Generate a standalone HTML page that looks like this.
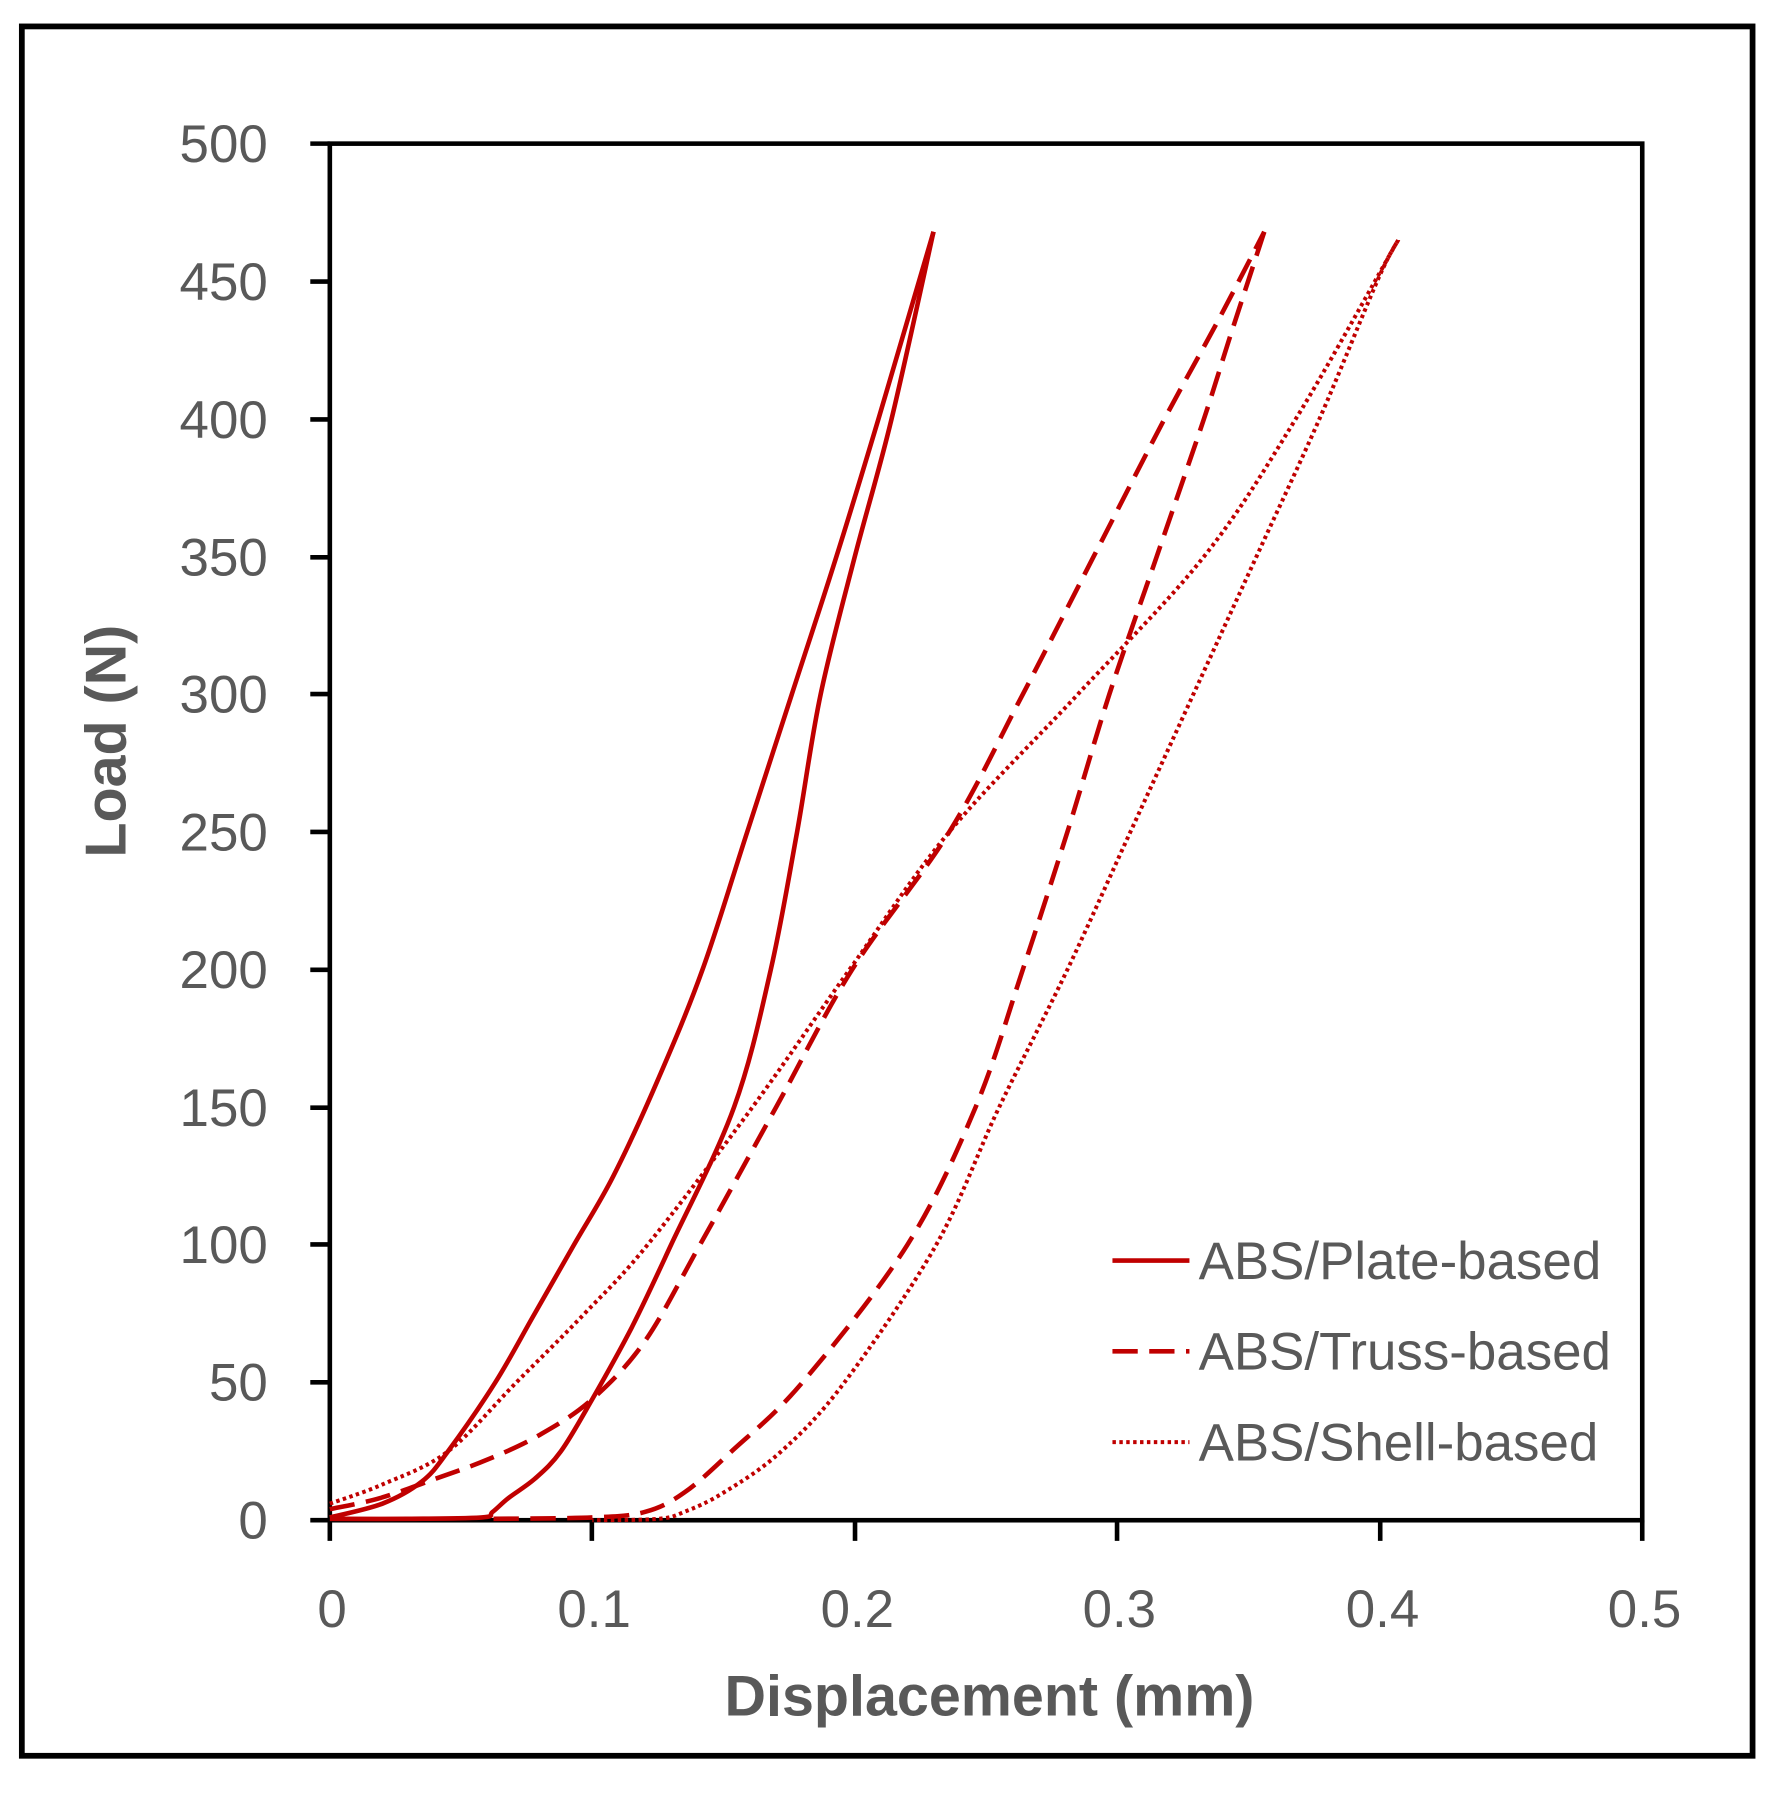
<!DOCTYPE html>
<html><head><meta charset="utf-8"><style>
html,body{margin:0;padding:0;background:#fff}
svg{display:block}
text{font-family:"Liberation Sans",sans-serif;fill:#595959}
</style></head><body>
<svg width="1779" height="1796" viewBox="0 0 1548 1563" preserveAspectRatio="none" xmlns="http://www.w3.org/2000/svg">
<rect x="0" y="0" width="1548" height="1563" fill="#fff"/>
<rect x="19" y="23" width="1506" height="1505" fill="none" stroke="#000" stroke-width="5"/>
<g stroke="#000" stroke-width="4" fill="none">
<rect x="287" y="125" width="1142" height="1198"/>
<path d="M270 125H287M270 245H287M270 365H287M270 485H287M270 604H287M270 724H287M270 844H287M270 964H287M270 1083H287M270 1203H287M270 1323H287"/>
<path d="M287 1323V1341M515 1323V1341M744 1323V1341M972 1323V1341M1201 1323V1341M1429 1323V1341"/>
</g>
<g font-size="46" text-anchor="end">
<text x="233" y="141">500</text><text x="233" y="261">450</text><text x="233" y="381">400</text>
<text x="233" y="501">350</text><text x="233" y="620">300</text><text x="233" y="740">250</text>
<text x="233" y="860">200</text><text x="233" y="980">150</text><text x="233" y="1099">100</text>
<text x="233" y="1219">50</text><text x="233" y="1339">0</text>
</g>
<g font-size="46" text-anchor="middle">
<text x="289" y="1416">0</text><text x="517" y="1416">0.1</text><text x="746" y="1416">0.2</text>
<text x="974" y="1416">0.3</text><text x="1203" y="1416">0.4</text><text x="1431" y="1416">0.5</text>
</g>
<text x="861" y="1493" font-size="50" font-weight="bold" text-anchor="middle">Displacement (mm)</text>
<text transform="translate(109,645) rotate(-90)" font-size="50" font-weight="bold" text-anchor="middle">Load (N)</text>
<g stroke="#c00000" stroke-width="4" fill="none">
<line x1="968" y1="1097" x2="1035" y2="1097"/>
<line x1="968" y1="1176" x2="1035" y2="1176" stroke-dasharray="22,10"/>
<line x1="968" y1="1255" x2="1035" y2="1255" stroke-dasharray="3,3" stroke-width="3.5"/>
</g>
<g font-size="46">
<text x="1043" y="1113">ABS/Plate-based</text>
<text x="1043" y="1192">ABS/Truss-based</text>
<text x="1043" y="1271">ABS/Shell-based</text>
</g>
<g id="curves" stroke="#c00000" fill="none" stroke-width="4" stroke-linejoin="round"></g>
</svg>
<script>
function P(pts){
 const q=pts.map(p=>[287+p[0]*2284,1323-p[1]*2.396]);
 let d="M"+q[0][0].toFixed(1)+" "+q[0][1].toFixed(1);
 for(let i=0;i<q.length-1;i++){
  const p0=q[Math.max(i-1,0)],p1=q[i],p2=q[i+1],p3=q[Math.min(i+2,q.length-1)];
  const c1=[p1[0]+(p2[0]-p0[0])/6,p1[1]+(p2[1]-p0[1])/6];
  const c2=[p2[0]-(p3[0]-p1[0])/6,p2[1]-(p3[1]-p1[1])/6];
  d+="C"+c1.map(v=>v.toFixed(1)).join(" ")+" "+c2.map(v=>v.toFixed(1)).join(" ")+" "+p2.map(v=>v.toFixed(1)).join(" ");
 }
 return d;
}
const plateL=[[0,1],[0.02,6],[0.035,14],[0.045,25],[0.063,50],[0.078,75],[0.093,100],[0.108,125],[0.125,160],[0.142,200],[0.159,250],[0.176,300],[0.193,350],[0.209,400],[0.23,468]];
const plateU=[[0.23,468],[0.214,400],[0.2,350],[0.187,300],[0.178,250],[0.168,200],[0.154,150],[0.13,100],[0.115,70],[0.1,44],[0.088,25],[0.078,15],[0.068,8],[0.062,3],[0.058,1],[0.03,0.5],[0,0.5]];
const trussL=[[0,4],[0.019,8],[0.04,15],[0.06,22],[0.08,31],[0.1,44],[0.12,65],[0.141,100],[0.17,150],[0.199,200],[0.236,250],[0.264,300],[0.291,350],[0.318,400],[0.338,435],[0.356,468]];
const trussU=[[0.356,468],[0.343,430],[0.333,400],[0.315,350],[0.297,300],[0.281,250],[0.264,200],[0.246,150],[0.22,100],[0.18,50],[0.153,25],[0.135,10],[0.12,3],[0.1,1],[0.06,0.5]];
const shellL=[[0,6],[0.02,13],[0.045,25],[0.071,50],[0.097,75],[0.121,100],[0.161,150],[0.198,200],[0.236,250],[0.285,300],[0.333,350],[0.368,400],[0.407,465]];
const shellU=[[0.407,465],[0.399,450],[0.377,400],[0.353,350],[0.329,300],[0.305,250],[0.281,200],[0.255,150],[0.231,100],[0.196,50],[0.172,25],[0.15,10],[0.135,3],[0.125,0.5],[0.1,0]];
const g=document.getElementById("curves");
g.innerHTML='<path d="'+P(plateL)+'"/><path d="'+P(plateU)+'"/>'+
'<path stroke-dasharray="22,10" d="'+P(trussL)+'"/><path stroke-dasharray="22,10" d="'+P(trussU)+'"/>'+
'<path stroke-width="3.5" stroke-dasharray="3,3" d="'+P(shellL)+'"/><path stroke-width="3.5" stroke-dasharray="3,3" d="'+P(shellU)+'"/>';
</script>
</body></html>
